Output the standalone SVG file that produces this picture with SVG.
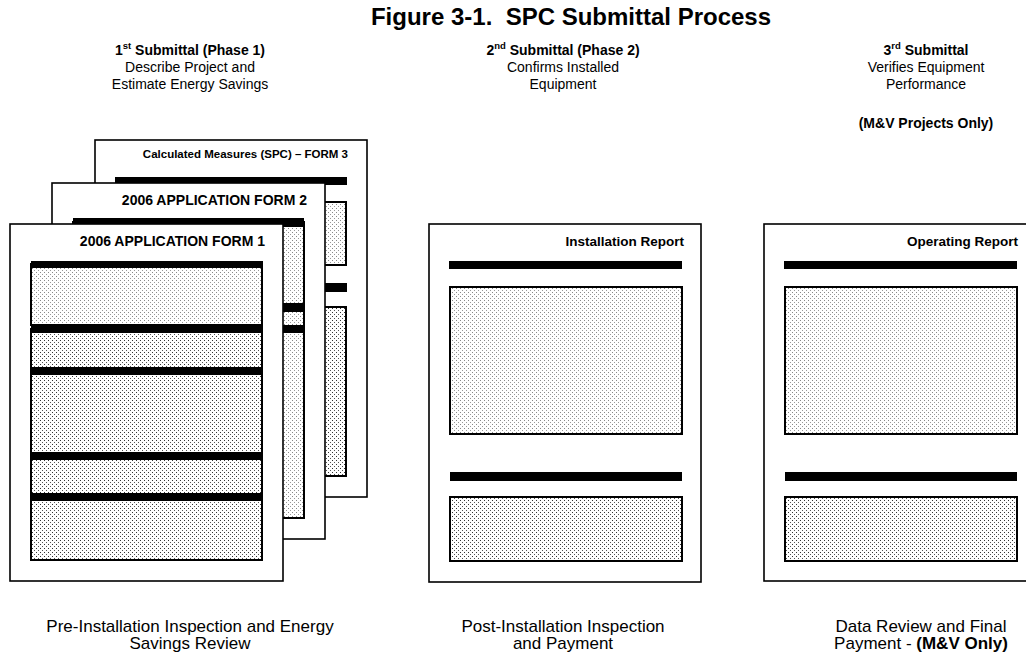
<svg xmlns="http://www.w3.org/2000/svg" width="1026" height="656" viewBox="0 0 1026 656">
<defs>
<pattern id="dotL" width="4" height="4" patternUnits="userSpaceOnUse">
<rect width="4" height="4" fill="#fff"/>
<rect x="0" y="0" width="1" height="1" fill="#888"/>
<rect x="2" y="2" width="1" height="1" fill="#999"/>
</pattern>
<pattern id="dotD" width="4" height="4" patternUnits="userSpaceOnUse">
<rect width="4" height="4" fill="#fff"/>
<rect x="0" y="0" width="1" height="1" fill="#333"/>
<rect x="2" y="2" width="1" height="1" fill="#555"/>
</pattern>
</defs>
<style>
.page{fill:#fff;stroke:#000;stroke-width:1.6}
.boxL{fill:url(#dotL);stroke:#000;stroke-width:2}
.boxD{fill:url(#dotD);stroke:#000;stroke-width:2}
.bar{fill:#000}
text{font-family:"Liberation Sans",Arial,sans-serif;fill:#000}
.t{font-size:24px;font-weight:bold;white-space:pre}
.h{font-size:14px;font-weight:bold}
.r{font-size:14px}
.f{font-size:17px}
.ft{font-weight:bold}
</style>
<rect width="1026" height="656" fill="#fff"/>
<text class="t" x="571" y="25" text-anchor="middle" xml:space="preserve">Figure 3-1.  SPC Submittal Process</text>

<g id="header1" text-anchor="middle">
<text class="h" x="190" y="55">1<tspan font-size="9.5" dy="-6">st</tspan><tspan dy="6"> Submittal (Phase 1)</tspan></text>
<text class="r" x="190" y="72">Describe Project and</text>
<text class="r" x="190" y="89">Estimate Energy Savings</text>
</g>
<g id="header2" text-anchor="middle">
<text class="h" x="563" y="55">2<tspan font-size="9.5" dy="-6">nd</tspan><tspan dy="6"> Submittal (Phase 2)</tspan></text>
<text class="r" x="563" y="72">Confirms Installed</text>
<text class="r" x="563" y="89">Equipment</text>
</g>
<g id="header3" text-anchor="middle">
<text class="h" x="926" y="55">3<tspan font-size="9.5" dy="-6">rd</tspan><tspan dy="6"> Submittal</tspan></text>
<text class="r" x="926" y="72">Verifies Equipment</text>
<text class="r" x="926" y="89">Performance</text>
<text class="h" x="926" y="128">(M&amp;V Projects Only)</text>
</g>

<g id="form3">
<rect class="page" x="95" y="140" width="272" height="357"/>
<text class="ft" font-size="11.5" x="348" y="158" text-anchor="end">Calculated Measures (SPC) – FORM 3</text>
<rect class="bar" x="115" y="177" width="232" height="8"/>
<rect class="boxL" x="115" y="202" width="231" height="63"/>
<rect class="bar" x="115" y="283" width="232" height="9"/>
<rect class="boxD" x="115" y="307" width="231" height="169"/>
</g>

<g id="form2">
<rect class="page" x="52" y="183" width="273" height="356"/>
<text class="ft" font-size="14" x="307" y="205" text-anchor="end">2006 APPLICATION FORM 2</text>
<rect class="boxL" x="73" y="222" width="231" height="296"/>
<rect class="bar" x="73" y="218" width="231" height="9"/>
<rect class="bar" x="73" y="303" width="231" height="9"/>
<rect class="bar" x="73" y="325" width="231" height="8"/>
</g>

<g id="form1">
<rect class="page" x="10" y="224" width="273" height="357"/>
<text class="ft" font-size="14" x="265" y="246" text-anchor="end">2006 APPLICATION FORM 1</text>
<rect class="boxL" x="31" y="264" width="231" height="61"/>
<rect class="boxD" x="31" y="329" width="231" height="231"/>
<rect class="bar" x="31" y="261" width="232" height="7"/>
<rect class="bar" x="31" y="325" width="232" height="8"/>
<rect class="bar" x="31" y="367" width="232" height="8"/>
<rect class="bar" x="31" y="452" width="232" height="8"/>
<rect class="bar" x="31" y="493" width="232" height="8"/>
</g>

<g id="installation-report">
<rect class="page" x="429" y="224" width="272" height="358"/>
<text class="ft" font-size="13.5" x="684" y="246" text-anchor="end">Installation Report</text>
<rect class="bar" x="449" y="261" width="233" height="8"/>
<rect class="boxL" x="450" y="287" width="232" height="147"/>
<rect class="bar" x="450" y="472" width="232" height="9"/>
<rect class="boxD" x="450" y="497" width="232" height="64"/>
</g>

<g id="operating-report">
<rect class="page" x="764" y="224" width="273" height="357"/>
<text class="ft" font-size="13.5" x="1018" y="246" text-anchor="end">Operating Report</text>
<rect class="bar" x="784" y="261" width="233" height="8"/>
<rect class="boxL" x="785" y="287" width="232" height="147"/>
<rect class="bar" x="785" y="472" width="232" height="9"/>
<rect class="boxD" x="785" y="497" width="232" height="64"/>
</g>

<g id="footer1" text-anchor="middle">
<text class="f" x="190" y="632">Pre-Installation Inspection and Energy</text>
<text class="f" x="190" y="649">Savings Review</text>
</g>
<g id="footer2" text-anchor="middle">
<text class="f" x="563" y="632">Post-Installation Inspection</text>
<text class="f" x="563" y="649">and Payment</text>
</g>
<g id="footer3" text-anchor="middle">
<text class="f" x="921" y="632">Data Review and Final</text>
<text class="f" x="921" y="649">Payment - <tspan font-weight="bold">(M&amp;V Only)</tspan></text>
</g>
</svg>
